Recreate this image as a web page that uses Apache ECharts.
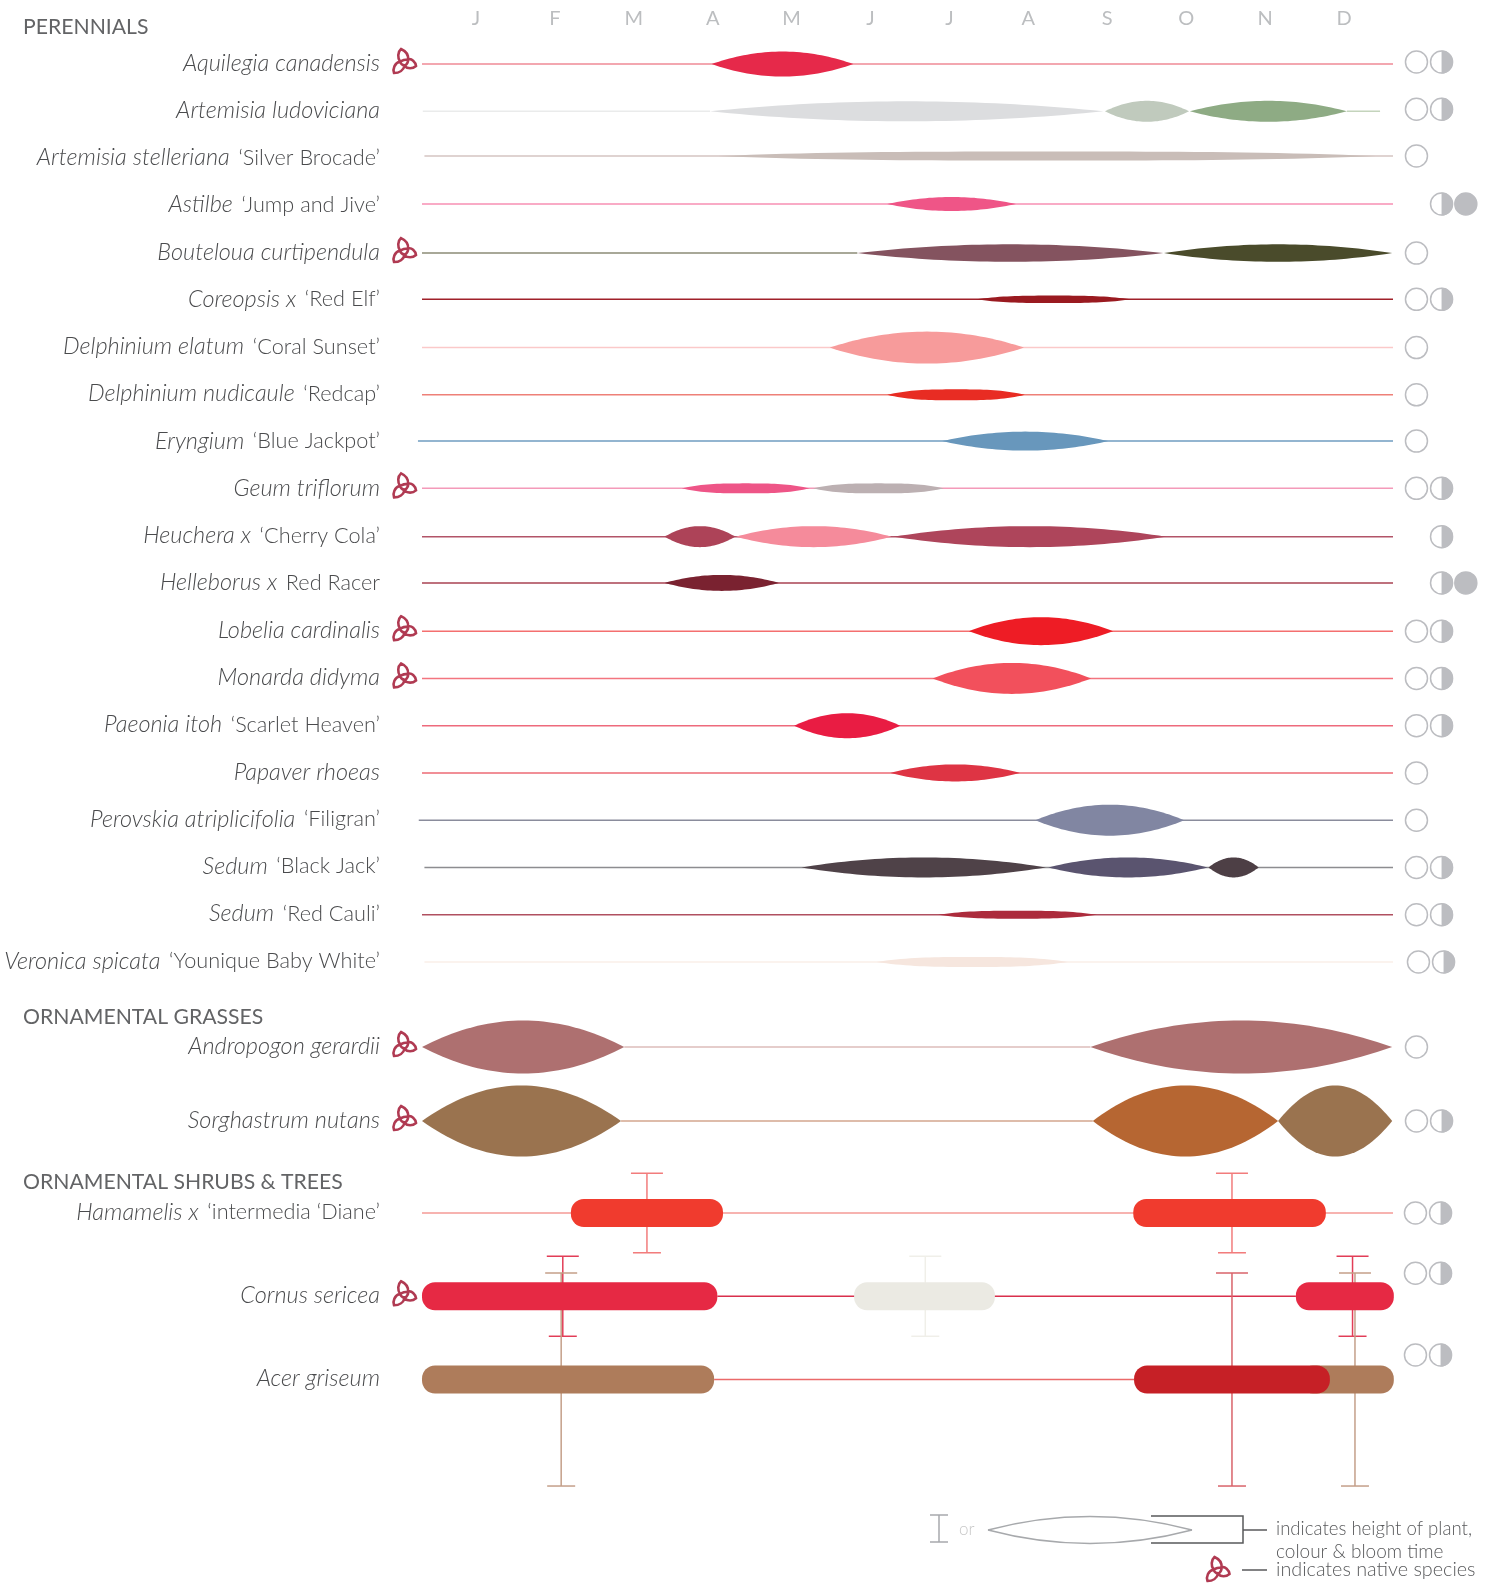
<!DOCTYPE html>
<html>
<head>
<meta charset="utf-8">
<title>Bloom calendar</title>
<style>html,body{margin:0;padding:0;background:#fff}#main{width:1494px;height:1585px}</style>
<script src="https://cdn.jsdelivr.net/npm/echarts@6/dist/echarts.min.js"></script>
</head>
<body>
<div id="main"></div>
<script>
// months, row names
var months = ['J','F','M','A','M','J','J','A','S','O','N','D'];
var headings = ['PERENNIALS','ORNAMENTAL GRASSES','ORNAMENTAL SHRUBS & TREES'];
var species = ['Aquilegia canadensis','Artemisia ludoviciana','Artemisia stelleriana','Astilbe','Bouteloua curtipendula','Coreopsis x','Delphinium elatum','Delphinium nudicaule','Eryngium','Geum triflorum','Heuchera x','Helleborus x','Lobelia cardinalis','Monarda didyma','Paeonia itoh','Papaver rhoeas','Perovskia atriplicifolia','Sedum','Sedum','Veronica spicata','Andropogon gerardii','Sorghastrum nutans','Hamamelis x','Cornus sericea','Acer griseum'];
var cultivars = ['','','‘Silver Brocade’','‘Jump and Jive’','','‘Red Elf’','‘Coral Sunset’','‘Redcap’','‘Blue Jackpot’','','‘Cherry Cola’','Red Racer','','','‘Scarlet Heaven’','','‘Filigran’','‘Black Jack’','‘Red Cauli’','‘Younique Baby White’','','','‘intermedia ‘Diane’','',''];
var nativeRows = [0,4,9,12,13,20,21,23];
// O open sun, H part shade, F shade
var light = ['OH','OH','O','HF','O','OH','O','O','O','OH','H','HF','OH','OH','OH','O','O','OH','OH','OH','O','OH','OH','OH','OH'];

// baseline segments, x in months from 1 Jan
var lineRow   = [0,1,1,2,3,4,5,6,7,8,9,10,11,12,13,14,15,16,17,18,19,20,21,22,23,24];
var lineStart = [0,0.01,11.43,0.03,0,0,0,0,0,-0.05,0,0,0,0,0,0,0,-0.04,0.03,0,0.03,2.5,2.46,0,3.65,3.61];
var lineEnd   = [12,3.56,11.84,12,12,5.38,12,12,12,12,12,12,12,12,12,12,12,12,12,12,12,8.26,8.29,12,10.8,8.8];
var lineColor = ['#ef8a96','#eaebeb','#c4d4bc','#d5c5c2','#f78fb3','#8b8b76','#a0212a','#fbc9c9','#ee8078','#6f9cc0','#f49ab9','#b25468','#a84252','#f46f6f','#f3757f','#ee6a7c','#ec6a75','#8a8c9c','#8d8d90','#b05060','#faefe9','#dcbcba','#d3a68e','#f59a96','#d9304d','#ea6a6a'];

// bloom lenses: perennials and grasses
var lensRow    = [0,1,1,1,2,3,4,4,5,6,7,8,9,9,10,10,10,11,12,13,14,15,16,17,17,17,18,19,20,20,21,21,21];
var lensStart  = [3.58,3.56,8.44,9.49,3.66,5.75,5.38,9.17,6.85,5.04,5.75,6.43,3.21,4.83,3.0,3.88,5.83,3.0,6.76,6.31,4.6,5.79,7.58,4.69,7.74,9.72,6.38,5.62,0,8.26,0,8.29,10.58];
var lensEnd    = [5.33,8.42,9.48,11.43,11.79,7.34,9.16,11.99,8.76,7.44,7.45,8.48,4.79,6.45,3.87,5.8,9.19,4.41,8.54,8.27,5.91,7.39,9.42,7.71,9.71,10.34,8.34,7.98,2.5,11.99,2.46,10.58,11.99];
var lensHeight = [25,20,21,21,9,14,17.5,17.5,7.5,32,11,19,10,10,21,21,21,16,28,31,25,17,31,20,20,20,8,10,53,53,71,71,71];
var lensColor  = ['#e6294a','#dcdddf','#c0cabd','#8eab84','#c9bdb8','#ef5587','#84535f','#4a4b2b','#9a1a20','#f79b9b','#e82c23','#6897bc','#ee5587','#bcb0b2','#ad4358','#f58b9b','#ae455b','#7a2230','#ee1c25','#f2505c','#e91c43','#de3444','#8186a2','#4f4248','#5a546f','#4d3f45','#ac2b3c','#f6e6de','#ae7070','#ae7070','#9a734f','#b66632','#9a734f'];

// shrubs and trees: colour season bars
var barRow   = [22,22,23,23,23,24,24,24];
var barStart = [1.84,8.79,0,5.34,10.8,0,10.85,8.8];
var barEnd   = [3.72,11.17,3.65,7.08,12.01,3.61,12.01,11.22];
var barColor = ['#f03b2e','#f03b2e','#e62944','#ebeae3','#e62944','#ae7c5b','#ae7c5b','#c62026'];

// shrubs and trees: height markers
var beamRow    = [22,22,23,23,23,24,24,24];
var beamX      = [2.78,10.01,1.74,6.22,11.5,1.72,10.01,11.53];
var beamHeight = [79.5,79.5,80,80,80,213,213,213];
var beamColor  = ['#f27c7c','#f27c7c','#e23d57','#f0efe9','#e23d57','#c49f89','#d9636a','#c49f89'];

// where the three light symbols sit, and which rows are nudged off their line
var lightX = {O: 12.29, H: 12.6, F: 12.9};
var lightNudge = {0: [0, -2], 1: [0, -2], 19: [2, 0], 22: [-1, 0], 23: [-1, -23], 24: [-1, -24.5]};
// the rows in the picture are not quite evenly spaced
var rowNudge = {2: -2.5, 3: -1.8, 5: -1, 8: -1, 9: -1, 11: -1};

var groups = [
  {first: 0, count: 20, top: 40.4, height: 945.2},
  {first: 20, count: 2, top: 1010, height: 148},
  {first: 22, count: 3, top: 1171.4, height: 249.75}
];
var headingTop = [17, 1007, 1172];
var labelFont = 'Lato';

// trillium outline, registered so custom series and graphic can both use it
echarts.graphic.registerShape('trillium', echarts.graphic.extendPath(
  'M-3.5 -12C1 -10 4 -6 3.5 -1.5C7 -3 11 1 11.5 5C8 8 3 8 0 5C-1 9 -5 12 -10.5 12C-12 8 -10 2 -4.5 .5C-7 -3 -7 -9 -3.5 -12ZM-4.5 .5C-1 -1.5 2 -1.5 3.5 -1.5M0 5C-2 4 -4 2.5 -4.5 .5M3.5 -1.5C4 1 2 3.5 0 5', {}));
var trilliumStyle = {fill: 'none', stroke: '#b03a52', lineWidth: 2.6};

var myChart = echarts.init(document.getElementById('main'));

function rowLabel(value, index, first) {
  var row = first + index;
  return '{i|' + species[row] + '}' + (cultivars[row] ? '{r| \u2009' + cultivars[row] + '}' : '');
}

// one custom series per grid for a mark type; draw gets a month -> pixel function for the row
function marks(name, rows, xs, z, draw) {
  return groups.map(function (g, gi) {
    var data = [];
    rows.forEach(function (row, i) {
      if (row >= g.first && row < g.first + g.count) data.push([xs[i], row - g.first, i]);
    });
    return {
      name: name, type: 'custom', coordinateSystem: 'cartesian2d',
      xAxisIndex: gi, yAxisIndex: gi, z: z, silent: true, clip: false,
      encode: {x: 0, y: 1}, data: data,
      renderItem: function (params, api) {
        var y = api.value(1), shift = rowNudge[g.first + y] || 0;
        return draw(api.value(2), function (month) {
          var p = api.coord([month, y]);
          return [p[0], p[1] + shift];
        });
      }
    };
  });
}

var lineSeries = marks('lines', lineRow, lineStart, 2, function (i, at) {
  var a = at(lineStart[i]), b = at(lineEnd[i]);
  return {type: 'line', shape: {x1: a[0], y1: a[1], x2: b[0], y2: b[1]}, style: {stroke: lineColor[i], lineWidth: 1.5}};
});

var lensSeries = marks('blooms', lensRow, lensStart, 4, function (i, at) {
  var a = at(lensStart[i]), b = at(lensEnd[i]);
  var half = lensHeight[i] / 2, power = half < 6 ? 3 : 2, top = [], bottom = [];
  for (var k = 0; k <= 40; k++) {
    var t = k / 20 - 1, px = a[0] + (b[0] - a[0]) * k / 40, d = half * (1 - Math.pow(Math.abs(t), power));
    top.push([px, a[1] - d]);
    bottom.unshift([px, a[1] + d]);
  }
  return {type: 'polygon', shape: {points: top.concat(bottom)}, style: {fill: lensColor[i]}};
});

var beamSeries = marks('heights', beamRow, beamX, 3, function (i, at) {
  var p = at(beamX[i]), half = beamHeight[i] / 2, st = {stroke: beamColor[i], lineWidth: 1.5};
  return {type: 'group', children: [
    {type: 'line', shape: {x1: p[0], y1: p[1] - half, x2: p[0], y2: p[1] + half}, style: st},
    {type: 'line', shape: {x1: p[0] - 16, y1: p[1] - half, x2: p[0] + 16, y2: p[1] - half}, style: st},
    {type: 'line', shape: {x1: p[0] - 14, y1: p[1] + half, x2: p[0] + 14, y2: p[1] + half}, style: st}
  ]};
});

var barSeries = marks('bars', barRow, barStart, 4, function (i, at) {
  var a = at(barStart[i]), b = at(barEnd[i]);
  return {type: 'rect', shape: {x: a[0], y: a[1] - 14, width: b[0] - a[0], height: 28, r: 13}, style: {fill: barColor[i]}};
});

var nativeXs = nativeRows.map(function () { return -0.216; });
var nativeSeries = marks('native', nativeRows, nativeXs, 5, function (i, at) {
  var p = at(-0.216);
  return {type: 'trillium', x: p[0], y: p[1] - 3, style: trilliumStyle};
});

// expand the light strings into one mark per symbol
var sunRow = [], sunKind = [], sunX = [];
light.forEach(function (s, row) {
  s.split('').forEach(function (k) { sunRow.push(row); sunKind.push(k); sunX.push(lightX[k]); });
});
var sunSeries = marks('light', sunRow, sunX, 5, function (i, at) {
  var p = at(sunX[i]), n = lightNudge[sunRow[i]] || [0, 0];
  var cx = p[0] + n[0], cy = p[1] + n[1], kids = [];
  kids.push({type: 'circle', shape: {cx: cx, cy: cy, r: 11}, style: {fill: sunKind[i] === 'F' ? '#bcbdc1' : '#fff', stroke: '#bcbdc1', lineWidth: 1.5}});
  if (sunKind[i] === 'H') {
    kids.push({type: 'sector', shape: {cx: cx, cy: cy, r0: 0, r: 11.5, startAngle: -Math.PI / 2, endAngle: Math.PI / 2}, style: {fill: '#bcbdc1'}});
  }
  return {type: 'group', children: kids};
});

// v6 shrinks a grid to keep long axis labels on the canvas, so turn that off
var grids = groups.map(function (g) {
  return {left: 422, width: 971, top: g.top, height: g.height, outerBoundsMode: 'none'};
});
grids.push({left: 436.5, width: 947, top: 30, height: 1, outerBoundsMode: 'none'});

var xAxes = groups.map(function (g, gi) {
  return {type: 'value', gridIndex: gi, min: 0, max: 12, show: false};
});
xAxes.push({type: 'category', gridIndex: 3, position: 'top', data: months,
  axisLine: {show: false}, axisTick: {show: false},
  axisLabel: {color: '#bcbec0', fontFamily: labelFont, fontSize: 20, fontWeight: 400, margin: 1, interval: 0}});

var yAxes = groups.map(function (g, gi) {
  return {
    type: 'category', gridIndex: gi, inverse: true,
    data: species.slice(g.first, g.first + g.count),
    axisLine: {show: false}, axisTick: {show: false}, splitLine: {show: false},
    axisLabel: {
      margin: 42, padding: [0, 0, 2, 0], interval: 0,
      formatter: function (v, index) { return rowLabel(v, index, g.first); },
      rich: {
        i: {fontFamily: labelFont, fontStyle: 'italic', fontWeight: 300, fontSize: 23.5, color: '#4a4b4d'},
        r: {fontFamily: labelFont, fontWeight: 300, fontSize: 21.7, color: '#4a4b4d'}
      }
    }
  };
});
yAxes.push({type: 'value', gridIndex: 3, show: false});

// key at the bottom right
function keyLabel(text, x, y, size) {
  return {type: 'text', x: x, y: y, style: {text: text, verticalAlign: 'middle', fontFamily: labelFont, fontWeight: 300, fontSize: size, fill: '#58595b'}};
}
var keyStroke = {stroke: '#a7a9ac', lineWidth: 1.5, fill: 'none'};
var darkStroke = {stroke: '#58595b', lineWidth: 1.5, fill: 'none'};

myChart.setOption({
  backgroundColor: '#fff',
  animation: false,
  title: headings.map(function (h, i) {
    return {text: h, left: 23, top: headingTop[i], padding: 0,
      textStyle: {fontFamily: labelFont, fontWeight: 400, fontSize: 21.2, color: '#636466'}};
  }),
  grid: grids,
  xAxis: xAxes,
  yAxis: yAxes,
  series: [].concat(lineSeries, beamSeries, lensSeries, barSeries, nativeSeries, sunSeries),
  graphic: {elements: [
    {type: 'line', shape: {x1: 939, y1: 1515, x2: 939, y2: 1542}, style: keyStroke},
    {type: 'line', shape: {x1: 930, y1: 1515, x2: 948, y2: 1515}, style: keyStroke},
    {type: 'line', shape: {x1: 930, y1: 1542, x2: 948, y2: 1542}, style: keyStroke},
    {type: 'text', x: 959, y: 1530, style: {text: 'or', verticalAlign: 'middle', fontFamily: labelFont, fontWeight: 300, fontSize: 17, fill: '#c8c8c8'}},
    {type: 'bezierCurve', shape: {x1: 988, y1: 1530, x2: 1192, y2: 1530, cpx1: 1090, cpy1: 1503}, style: keyStroke},
    {type: 'bezierCurve', shape: {x1: 988, y1: 1530, x2: 1192, y2: 1530, cpx1: 1090, cpy1: 1557}, style: keyStroke},
    {type: 'polyline', shape: {points: [[1151, 1516], [1243, 1516], [1243, 1543], [1151, 1543]]}, style: darkStroke},
    {type: 'line', shape: {x1: 1243, y1: 1530, x2: 1267, y2: 1530}, style: darkStroke},
    {type: 'line', shape: {x1: 1242, y1: 1570, x2: 1267, y2: 1570}, style: darkStroke},
    {type: 'trillium', x: 1218, y: 1569, style: trilliumStyle},
    keyLabel('indicates height of plant,', 1276, 1529, 18.6),
    keyLabel('colour & bloom time', 1276, 1552, 19),
    keyLabel('indicates native species', 1276, 1570, 19.8)
  ]}
});
</script>
</body>
</html>
